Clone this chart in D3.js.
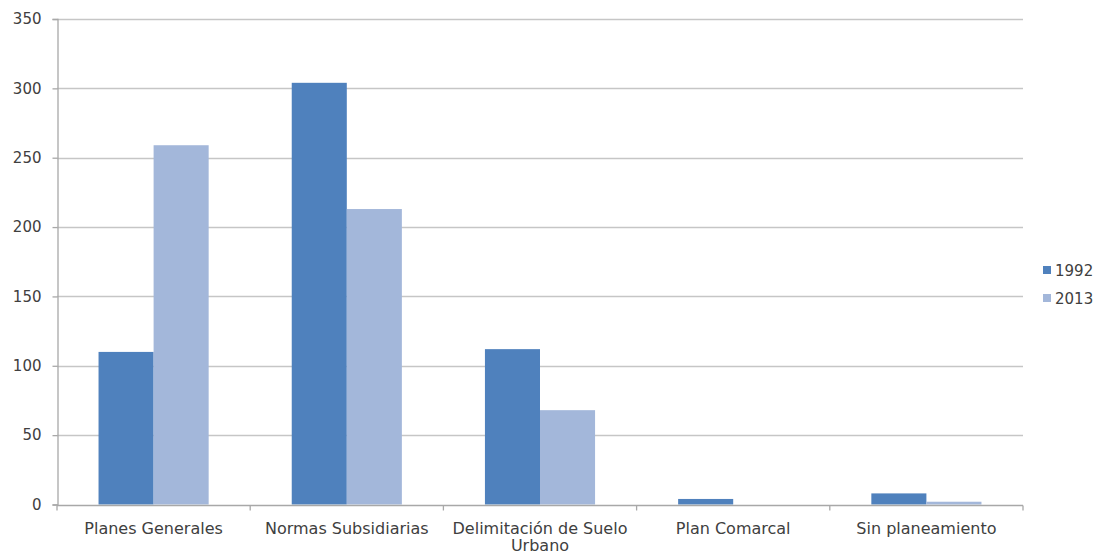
<!DOCTYPE html>
<html><head><meta charset="utf-8">
<script src="https://cdn.jsdelivr.net/npm/d3@7"></script>
<style>
html,body{margin:0;padding:0;background:#fff;}
svg text{font-family:"DejaVu Sans",sans-serif;fill:#404040;}
</style></head>
<body><svg id="c" width="1096" height="554"></svg>
<script>
const categories = ["Planes Generales","Normas Subsidiarias","Delimitación de Suelo Urbano","Plan Comarcal","Sin planeamiento"];
const seriesNames = ["1992","2013"];
const values1992 = [110, 304, 112, 4, 8];
const values2013 = [259, 213, 68, 0, 2];
const yTicks = [0,50,100,150,200,250,300,350];
const colors = ["#4f81bd","#a3b7da"];

const svg = d3.select("#c");
const mLeft = 57, mRight = 1023, mTop = 19, mBottom = 504.5;
const x0 = d3.scaleBand().domain(categories).range([mLeft,mRight]).paddingInner(0).paddingOuter(0);
const groupW = x0.bandwidth()*0.57;
const x1 = d3.scaleBand().domain(seriesNames).range([0,groupW]).padding(0);
const y = d3.scaleLinear().domain([0,350]).range([mBottom,mTop]);

// gridlines
svg.append("g").selectAll("line").data(yTicks.filter(d=>d>0)).join("line")
  .attr("x1",mLeft).attr("x2",mRight).attr("y1",d=>Math.round(y(d))+0.5).attr("y2",d=>Math.round(y(d))+0.5)
  .attr("stroke","#c6c6c6").attr("stroke-width",1.3);

// bars
const data = categories.map((c,i)=>({c, v:[values1992[i],values2013[i]]}));
const g = svg.append("g").selectAll("g").data(data).join("g")
  .attr("transform",d=>`translate(${x0(d.c)+(x0.bandwidth()-groupW)/2},0)`);
g.selectAll("rect").data(d=>d.v.map((v,j)=>({s:seriesNames[j],v,j}))).join("rect")
  .attr("x",d=>x1(d.s)).attr("width",x1.bandwidth())
  .attr("y",d=>y(d.v)).attr("height",d=>mBottom-y(d.v))
  .attr("fill",d=>colors[d.j]);

// y axis
const yAxis = d3.axisLeft(y).tickValues(yTicks).tickSize(5).tickPadding(11);
const ya = svg.append("g").attr("transform",`translate(${mLeft+0.5},0)`).call(yAxis);
ya.select(".domain").attr("stroke","#a8a8a8").attr("stroke-width",1.3);
ya.selectAll(".tick line").attr("stroke","#a8a8a8").attr("stroke-width",1.3);
ya.selectAll("text").style("font-size","15px").attr("fill","#404040");

// x axis
const xa = svg.append("g").attr("transform",`translate(0,${Math.round(mBottom)+0.5})`);
xa.append("line").attr("x1",mLeft).attr("x2",mRight).attr("stroke","#a8a8a8").attr("stroke-width",1.3);
const bounds = d3.range(categories.length+1).map(i=>mLeft+i*x0.step());
xa.selectAll("line.tk").data(bounds).join("line").attr("class","tk")
  .attr("x1",d=>d).attr("x2",d=>d).attr("y1",0).attr("y2",5)
  .attr("stroke","#a8a8a8").attr("stroke-width",1.3);
const lab = xa.selectAll("text").data(categories).join("text")
  .attr("text-anchor","middle").style("font-size","16px")
  .attr("x",d=>x0(d)+x0.bandwidth()/2).attr("y",28);
lab.each(function(d){
  const t = d3.select(this);
  if (d === "Delimitación de Suelo Urbano") {
    t.append("tspan").attr("x",x0(d)+x0.bandwidth()/2).attr("dy",0).text("Delimitación de Suelo");
    t.append("tspan").attr("x",x0(d)+x0.bandwidth()/2).attr("dy",17).text("Urbano");
  } else t.text(d);
});

// legend
const lg = svg.append("g").selectAll("g").data(seriesNames).join("g")
  .attr("transform",(d,i)=>`translate(1043,${266+i*28})`);
lg.append("rect").attr("width",8).attr("height",8).attr("fill",(d,i)=>colors[i]);
lg.append("text").attr("x",12).attr("y",9.5).style("font-size","15px").text(d=>d);
</script></body></html>
